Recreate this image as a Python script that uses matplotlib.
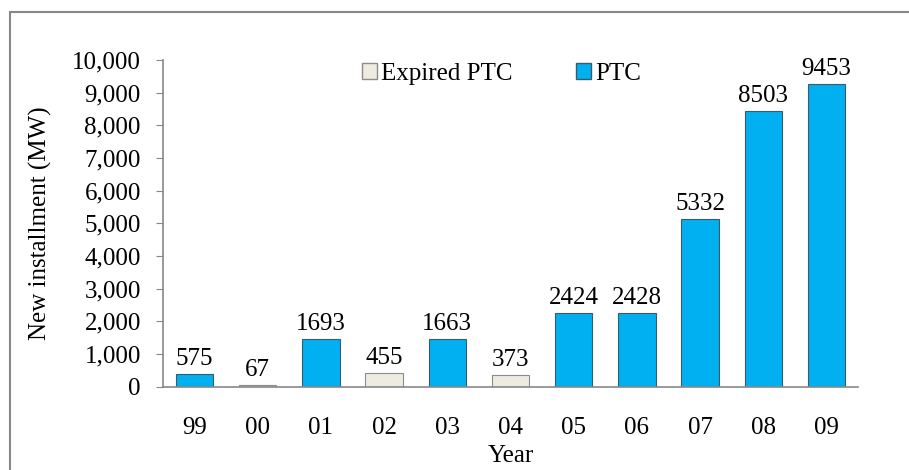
import numpy as np
import matplotlib.pyplot as plt
from matplotlib.patches import Rectangle, Patch

years = ['99', '00', '01', '02', '03', '04', '05', '06', '07', '08', '09']
# bar heights as drawn in the picture
heights = [390, 60, 1460, 430, 1460, 360, 2255, 2255, 5130, 8440, 9275]
# value labels printed above the bars
labels = [575, 67, 1693, 455, 1663, 373, 2424, 2428, 5332, 8503, 9453]
expired = [False, True, False, True, False, True, False, False, False, False, False]

blue = '#00B0F0'
beige = '#EEECE1'
fs = 18

plt.rcParams['font.family'] = ['Liberation Serif', 'DejaVu Serif']
plt.rcParams['font.size'] = fs

fig = plt.figure(figsize=(9.09, 4.70), dpi=100)
ax = fig.add_axes([163/909, 1 - 386.7/470, (858 - 163)/909, (386.7 - 60)/470])

x = np.arange(len(years))
colors = [beige if e else blue for e in expired]
edges = ['#8c8c8c' if e else '#3a5a6a' for e in expired]
ax.bar(x, heights, width=0.59, color=colors, edgecolor=edges, linewidth=0.8, zorder=2)

for xi, h, lab in zip(x, heights, labels):
    ax.text(xi, h + 120, str(lab), ha='center', va='bottom', fontsize=fs)

ax.set_xlim(-0.5, len(years) - 0.5)
ax.set_ylim(0, 10000)
ax.set_yticks(np.arange(0, 10001, 1000))
ax.set_yticklabels(['{:,}'.format(v) for v in range(0, 10001, 1000)])
ax.set_xticks(x)
ax.set_xticklabels(years)
ax.tick_params(axis='x', length=0, pad=22, labelsize=fs)
ax.tick_params(axis='y', length=5, color='#888888', labelsize=fs, pad=11)

for s in ['top', 'right']:
    ax.spines[s].set_visible(False)
for s in ['left', 'bottom']:
    ax.spines[s].set_color('#888888')
    ax.spines[s].set_linewidth(1.2)

ax.set_xlabel('Year', fontsize=fs, labelpad=4)
ax.set_ylabel('New installment (MW)', fontsize=fs, labelpad=14)

handles = [Patch(facecolor=beige, edgecolor='#8c8c8c', label='Expired PTC'),
           Patch(facecolor=blue, edgecolor='#3a5a6a', label='PTC')]
ax.legend(handles=handles, loc='upper left', bbox_to_anchor=(0.254, 1.06), ncol=2,
          frameon=False, handlelength=0.6, handleheight=0.6, handletextpad=0.15,
          columnspacing=2.55, fontsize=fs)

# outer frame
fig.patches.append(Rectangle((10/909, -0.05), 1.0, 1.05 - 12/470, transform=fig.transFigure,
                             fill=False, edgecolor='#888888', linewidth=1.5))

fig.savefig('out.png', dpi=100)
